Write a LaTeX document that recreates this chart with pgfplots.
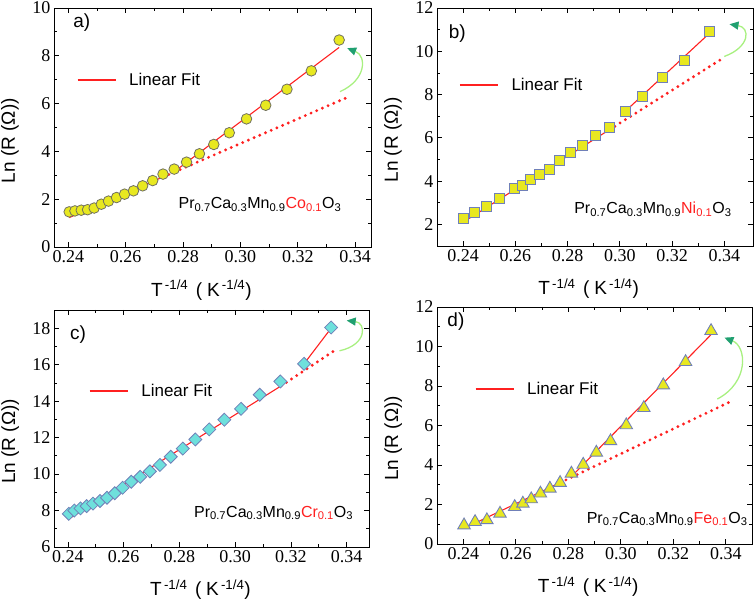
\documentclass[border=0pt]{standalone}
\usepackage{fontspec}
\setmainfont{Liberation Serif}
\newfontfamily\arial{Liberation Sans}
\usepackage{pgfplots}
\pgfplotsset{compat=1.18}
\usetikzlibrary{arrows.meta}
\definecolor{myyellow}{HTML}{E8E820}
\definecolor{mycyan}{HTML}{6EE0DC}
\definecolor{edgeblue}{HTML}{7080B8}
\definecolor{edgegrey}{HTML}{707060}
\definecolor{fitred}{HTML}{FF2020}
\definecolor{arrowlight}{HTML}{A8F080}
\definecolor{arrowdark}{HTML}{20A070}

\tikzset{greenarrow/.style={arrowlight, line width=1.3pt, -{Triangle[length=9pt,width=8pt,color=arrowdark]}}}
\pgfplotsset{
  panel/.style={
    scale only axis,
    clip=false,
    axis line style={line width=0.9pt, black},
    every tick/.style={line width=0.8pt, black},
    major tick length=5pt, minor tick length=3pt,
    tick align=inside,
    minor x tick num=1, minor y tick num=1,
    xtick={0.24,0.26,0.28,0.30,0.32,0.34},
    xticklabel style={/pgf/number format/.cd, fixed, fixed zerofill, precision=2},
    /pgf/number format/assume math mode=true,
    ticklabel style={font=\rmfamily\fontsize{18}{18}\selectfont},
    label style={font=\arial\fontsize{19}{19}\selectfont},
    xlabel={T\textsuperscript{\,-1/4}\hspace{0.4em}(\hspace{0.25em}K\textsuperscript{\,-1/4})},
    ylabel={Ln (R (Ω))},
    legend style={draw=none, fill=none, inner sep=0pt, outer sep=0pt,
      font=\arial\fontsize{17}{17}\selectfont, anchor=west},
    legend image code/.code={\draw[fitred, line width=1.4pt] (0pt,0pt) -- (38pt,0pt);},
  },
  fit/.style={fitred, line width=1.1pt, forget plot},
  dots/.style={fitred, line width=3.2pt, line cap=round, dash pattern=on 0pt off 6.2pt, forget plot},
}
\newcommand{\lbl}[1]{\arial\fontsize{19}{19}\selectfont #1}
\newcommand{\formula}[1]{\arial\fontsize{16}{16}\selectfont Pr\textsubscript{0.7}Ca\textsubscript{0.3}Mn\textsubscript{0.9}\textcolor{fitred}{#1\textsubscript{0.1}}O\textsubscript{3}}
\newcommand{\legtext}{\hspace{11pt}Linear Fit}

\begin{document}
\begin{tikzpicture}
\path[use as bounding box] (0,0) rectangle (756pt,605pt);

% ---------- a) Co ----------
\begin{axis}[panel, at={(54pt,358pt)}, anchor=south west, width=317pt, height=239pt,
  xmin=0.235, xmax=0.3455, ymin=0, ymax=10, ytick={0,2,4,6,8,10},
  xlabel style={at={(axis description cs:0.465,-0.18)}, anchor=center},
  ylabel style={at={(axis description cs:-0.139,0.445)}, anchor=center},
  legend style={at={(0.072,0.699)}}]
\addlegendimage{fitred, line width=1.4pt}
\addlegendentry{\legtext}
\addplot[only marks, mark=*, mark size=5.3pt, mark options={fill=myyellow, draw=edgegrey, line width=0.8pt}, forget plot] coordinates {
(0.2403,1.47)(0.2423,1.51)(0.2445,1.54)(0.2467,1.56)(0.2490,1.63)(0.2515,1.79)
(0.2540,1.92)(0.2568,2.07)(0.2596,2.21)(0.2627,2.35)(0.2659,2.56)(0.2694,2.78)
(0.2730,3.05)(0.2769,3.26)(0.2812,3.55)(0.2857,3.90)(0.2907,4.29)(0.2961,4.78)
(0.3021,5.36)(0.3088,5.93)(0.3162,6.60)(0.3247,7.37)(0.3344,8.66)};
\addplot[fit] coordinates {(0.2403,1.23)(0.2730,2.93)};
\addplot[dots] coordinates {(0.2730,2.93)(0.3371,6.25)};
\addplot[fit] coordinates {(0.2769,3.15)(0.3344,8.35)};
\draw[greenarrow] (axis cs:0.3347,6.5) .. controls (axis cs:0.3440,7.0) and (axis cs:0.3440,8.0) .. (axis cs:0.3372,8.32);
\node[anchor=center] at (axis cs:0.2447,9.37) {\lbl{a)}};
\node[anchor=base west, inner sep=0pt] at (axis cs:0.2784,1.61) {\formula{Co}};
\end{axis}

% ---------- b) Ni ----------
\begin{axis}[panel, at={(437pt,359pt)}, anchor=south west, width=316pt, height=238pt,
  xmin=0.23, xmax=0.351, ymin=1, ymax=12, ytick={2,4,6,8,10,12},
  xlabel style={at={(axis description cs:0.48,-0.18)}, anchor=center},
  ylabel style={at={(axis description cs:-0.139,0.445)}, anchor=center},
  legend style={at={(0.070,0.676)}}]
\addlegendimage{fitred, line width=1.4pt}
\addlegendentry{\legtext}
\addplot[only marks, mark=square*, mark size=5pt, mark options={fill=myyellow, draw=edgeblue, line width=0.9pt}, forget plot] coordinates {
(0.2403,2.26)(0.2445,2.56)(0.2490,2.83)(0.2540,3.22)(0.2596,3.65)(0.2627,3.81)
(0.2659,4.07)(0.2694,4.32)(0.2730,4.52)(0.2769,4.95)(0.2812,5.31)(0.2857,5.63)
(0.2907,6.10)(0.2961,6.50)(0.3021,7.22)(0.3088,7.89)(0.3162,8.77)(0.3247,9.57)
(0.3344,10.93)};
\addplot[fit] coordinates {(0.2403,2.12)(0.2961,6.38)};
\addplot[dots] coordinates {(0.2961,6.38)(0.3387,9.62)};
\addplot[fit] coordinates {(0.3015,7.16)(0.3344,10.84)};
\draw[greenarrow] (axis cs:0.3400,9.76) .. controls (axis cs:0.3500,10.2) and (axis cs:0.3500,11.1) .. (axis cs:0.3420,11.25);
\node[anchor=center] at (axis cs:0.2378,10.84) {\lbl{b)}};
\node[anchor=base west, inner sep=0pt] at (axis cs:0.2825,2.49) {\formula{Ni}};
\end{axis}

% ---------- c) Cr ----------
\begin{axis}[panel, at={(54pt,58pt)}, anchor=south west, width=315pt, height=237pt,
  xmin=0.235, xmax=0.348, ymin=6, ymax=19, ytick={6,8,10,12,14,16,18},
  xlabel style={at={(axis description cs:0.465,-0.18)}, anchor=center},
  ylabel style={at={(axis description cs:-0.139,0.445)}, anchor=center},
  legend style={at={(0.111,0.659)}}]
\addlegendimage{fitred, line width=1.4pt}
\addlegendentry{\legtext}
\addplot[only marks, mark=square*, mark size=4.6pt, mark options={rotate=45, fill=mycyan, draw=edgeblue, line width=0.8pt}, forget plot] coordinates {
(0.2403,7.82)(0.2423,8.00)(0.2445,8.12)(0.2467,8.24)(0.2490,8.38)(0.2515,8.52)
(0.2540,8.70)(0.2568,8.95)(0.2596,9.25)(0.2627,9.58)(0.2659,9.85)(0.2694,10.15)
(0.2730,10.50)(0.2769,10.95)(0.2812,11.40)(0.2857,11.90)(0.2907,12.45)(0.2961,12.98)
(0.3021,13.58)(0.3088,14.35)(0.3162,15.08)(0.3247,16.05)(0.3344,18.04)};
\addplot[fit] coordinates {(0.2403,7.54)(0.3165,14.84)};
\addplot[dots] coordinates {(0.3165,14.84)(0.3353,16.74)};
\addplot[fit] coordinates {(0.3247,16.05)(0.3344,18.0)};
\draw[greenarrow] (axis cs:0.3374,16.76) .. controls (axis cs:0.3475,17.1) and (axis cs:0.3470,18.3) .. (axis cs:0.3400,18.42);
\node[anchor=center] at (axis cs:0.2436,17.67) {\lbl{c)}};
\node[anchor=base west, inner sep=0pt] at (axis cs:0.2852,7.64) {\formula{Cr}};
\end{axis}

% ---------- d) Fe ----------
\begin{axis}[panel, at={(437pt,61pt)}, anchor=south west, width=315pt, height=237pt,
  xmin=0.23, xmax=0.35, ymin=0, ymax=12, ytick={0,2,4,6,8,10,12},
  xlabel style={at={(axis description cs:0.48,-0.18)}, anchor=center},
  ylabel style={at={(axis description cs:-0.139,0.445)}, anchor=center},
  legend style={at={(0.12,0.654)}}]
\addlegendimage{fitred, line width=1.4pt}
\addlegendentry{\legtext}
\addplot[only marks, mark=triangle*, mark size=7.2pt, mark options={fill=myyellow, draw=edgeblue, line width=0.9pt}, forget plot] coordinates {
(0.2403,0.95)(0.2445,1.12)(0.2490,1.21)(0.2540,1.54)(0.2596,1.88)(0.2627,2.05)
(0.2659,2.27)(0.2694,2.56)(0.2730,2.81)(0.2769,3.10)(0.2812,3.57)(0.2857,4.02)
(0.2907,4.63)(0.2961,5.21)(0.3021,6.02)(0.3088,6.89)(0.3162,8.04)(0.3247,9.22)
(0.3344,10.79)};
\addplot[fit] coordinates {(0.2406,0.81)(0.2770,3.11)};
\addplot[dots] coordinates {(0.2770,3.11)(0.3415,7.19)};
\addplot[fit] coordinates {(0.2819,3.51)(0.3344,10.6)};
\draw[greenarrow] (axis cs:0.3368,7.34) .. controls (axis cs:0.3490,8.2) and (axis cs:0.3480,10.0) .. (axis cs:0.3395,10.45);
\node[anchor=center] at (axis cs:0.2372,11.27) {\lbl{d)}};
\node[anchor=base west, inner sep=0pt] at (axis cs:0.2870,1.06) {\formula{Fe}};
\end{axis}
\end{tikzpicture}
\end{document}
